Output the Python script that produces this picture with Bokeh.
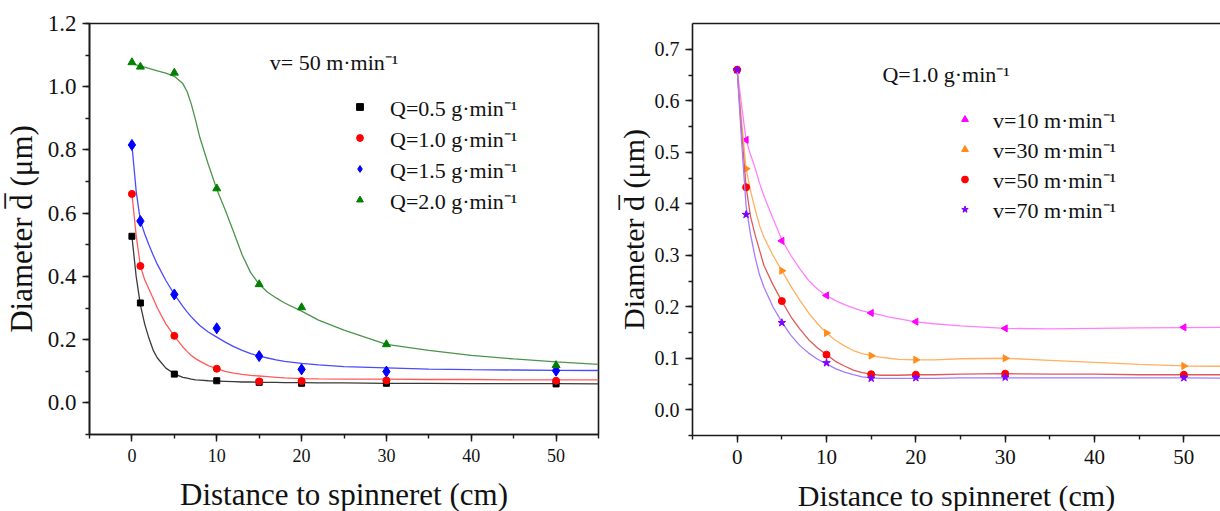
import math
from bokeh.plotting import figure
from bokeh.layouts import row
from bokeh.models import (Legend, LegendItem, Label, LinearAxis, SingleIntervalTicker,
                          FixedTicker, NumeralTickFormatter)
from bokeh.embed import file_html
from bokeh.resources import INLINE

FONT = "Liberation Serif"

# ---------------- data: measured points ----------------
dist = [0, 1, 5, 10, 15, 20, 30, 50]

# left panel (v = 50 m/min)
q05 = [0.527, 0.316, 0.091, 0.070, 0.065, 0.062, 0.062, 0.060]
q10 = [0.661, 0.433, 0.212, 0.108, 0.068, 0.069, 0.071, 0.070]
q15 = [0.816, 0.575, 0.343, 0.236, 0.148, 0.106, 0.099, 0.102]
q20 = [1.077, 1.063, 1.044, 0.678, 0.375, 0.302, 0.185, 0.119]

# right panel (Q = 1.0 g/min)
v10 = [0.660, 0.524, 0.328, 0.222, 0.188, 0.171, 0.158, 0.160]
v30 = [0.660, 0.468, 0.270, 0.149, 0.105, 0.097, 0.100, 0.085]
v50 = [0.660, 0.432, 0.211, 0.107, 0.069, 0.068, 0.070, 0.068]
v70 = [0.660, 0.379, 0.169, 0.091, 0.061, 0.062, 0.063, 0.062]

# ---------------- fitted curves ----------------
fit_x_left = [0, 0.5, 1, 1.5, 2, 2.5, 3, 4, 5, 6, 6.5, 7, 7.5, 8, 9, 10, 11, 12, 13, 14,
              15, 16, 17, 18, 20, 22, 25, 30, 35, 40, 45, 50, 55]
fit_q05 = [0.527, 0.400, 0.310, 0.250, 0.205, 0.167, 0.142, 0.110, 0.092, 0.081, 0.078,
           0.075, 0.073, 0.072, 0.070, 0.069, 0.068, 0.067, 0.066, 0.066,
           0.065, 0.065, 0.065, 0.064, 0.064, 0.063, 0.063, 0.062, 0.062, 0.061, 0.061, 0.061, 0.060]
fit_q10 = [0.661, 0.530, 0.433, 0.390, 0.360, 0.331, 0.300, 0.250, 0.211, 0.177, 0.163,
           0.150, 0.140, 0.132, 0.118, 0.108, 0.100, 0.094, 0.090, 0.087,
           0.085, 0.083, 0.081, 0.079, 0.077, 0.076, 0.075, 0.075, 0.074, 0.074, 0.073, 0.073, 0.073]
fit_q15 = [0.816, 0.670, 0.575, 0.535, 0.500, 0.468, 0.438, 0.387, 0.343, 0.305, 0.288,
           0.272, 0.258, 0.245, 0.224, 0.208, 0.192, 0.178, 0.166, 0.156,
           0.148, 0.142, 0.136, 0.131, 0.125, 0.120, 0.115, 0.111, 0.107, 0.105, 0.104, 0.103, 0.1025]
fit_q20 = [1.074, 1.069, 1.065, 1.062, 1.058, 1.054, 1.050, 1.043, 1.033, 1.010, 0.985,
           0.945, 0.895, 0.840, 0.755, 0.676, 0.610, 0.540, 0.468, 0.412,
           0.375, 0.350, 0.332, 0.316, 0.290, 0.262, 0.230, 0.185, 0.166, 0.150, 0.139, 0.130, 0.122]

fit_x_right = [0, 0.5, 1, 1.5, 2, 2.5, 3, 4, 5, 6, 7, 8, 9, 10, 11, 12, 13, 14, 15, 16,
               17, 18, 20, 22, 25, 30, 35, 40, 45, 50, 54.1]
fit_v10 = [0.660, 0.590, 0.524, 0.495, 0.470, 0.440, 0.415, 0.372, 0.330, 0.300, 0.274,
           0.251, 0.234, 0.2215, 0.212, 0.204, 0.198, 0.192, 0.188, 0.184,
           0.180, 0.177, 0.1705, 0.167, 0.163, 0.158, 0.157, 0.158, 0.159, 0.1596, 0.160]
fit_v30 = [0.660, 0.560, 0.468, 0.425, 0.390, 0.358, 0.335, 0.300, 0.270, 0.240, 0.213,
           0.188, 0.167, 0.149, 0.135, 0.124, 0.115, 0.109, 0.105, 0.102,
           0.100, 0.098, 0.097, 0.097, 0.099, 0.100, 0.096, 0.092, 0.088, 0.085, 0.0845]
fit_v50 = [0.660, 0.540, 0.432, 0.375, 0.340, 0.310, 0.280, 0.243, 0.211, 0.181, 0.157,
           0.136, 0.120, 0.107, 0.094, 0.085, 0.077, 0.072, 0.069, 0.067,
           0.067, 0.067, 0.068, 0.068, 0.069, 0.070, 0.069, 0.069, 0.068, 0.068, 0.068]
fit_v70 = [0.660, 0.520, 0.395, 0.340, 0.297, 0.262, 0.238, 0.200, 0.170, 0.145, 0.125,
           0.110, 0.098, 0.089, 0.080, 0.073, 0.068, 0.064, 0.062, 0.061,
           0.061, 0.061, 0.061, 0.061, 0.062, 0.062, 0.062, 0.062, 0.062, 0.062, 0.0615]

left_labels = ["Q=0.5 g\u00b7min\u207b\u00b9", "Q=1.0 g\u00b7min\u207b\u00b9",
               "Q=1.5 g\u00b7min\u207b\u00b9", "Q=2.0 g\u00b7min\u207b\u00b9"]
right_labels = ["v=10 m\u00b7min\u207b\u00b9", "v=30 m\u00b7min\u207b\u00b9",
                "v=50 m\u00b7min\u207b\u00b9", "v=70 m\u00b7min\u207b\u00b9"]
left_note = "v= 50 m\u00b7min\u207b\u00b9"
right_note = "Q=1.0 g\u00b7min\u207b\u00b9"
x_title = "Distance to spinneret (cm)"
y_title = "Diameter d\u0305 (\u03bcm)"

AX = "#1a1a1a"


def style_axes(p, xfs, yfs, title_fs, y_interval):
    p.xgrid.visible = False
    p.ygrid.visible = False
    p.background_fill_color = "white"
    p.border_fill_color = "white"
    p.xaxis.ticker = SingleIntervalTicker(interval=10, num_minor_ticks=2)
    p.yaxis.ticker = SingleIntervalTicker(interval=y_interval, num_minor_ticks=2)
    p.yaxis.formatter = NumeralTickFormatter(format="0.0")
    for ax in (p.xaxis, p.yaxis):
        ax.axis_line_color = AX
        ax.axis_line_width = 1.6
        ax.major_tick_line_color = AX
        ax.major_tick_line_width = 1.4
        ax.minor_tick_line_color = AX
        ax.minor_tick_line_width = 1.4
        ax.major_tick_in = 0
        ax.major_tick_out = 7
        ax.minor_tick_in = 0
        ax.minor_tick_out = 4
        ax.major_label_text_font = FONT
        ax.major_label_text_color = "#111111"
        ax.axis_label_text_font = FONT
        ax.axis_label_text_font_style = "normal"
        ax.axis_label_text_color = "#111111"
        ax.axis_label_text_font_size = title_fs
    p.xaxis.major_label_text_font_size = xfs
    p.yaxis.major_label_text_font_size = yfs
    p.xaxis.axis_label = x_title
    p.yaxis.axis_label = y_title
    p.yaxis.major_label_standoff = 6
    p.xaxis.major_label_standoff = 7


# ---------------- left panel ----------------
left = figure(frame_width=509, frame_height=411, x_range=(-5, 55), y_range=(-0.1, 1.2000001),
              output_backend="svg", toolbar_location=None,
              min_border_left=89, min_border_right=12, min_border_top=23, min_border_bottom=77)
style_axes(left, "18px", "23px", "31px", 0.2)
left.yaxis.axis_label_standoff = 6
left.xaxis.axis_label_standoff = 12
left.outline_line_color = AX
left.outline_line_width = 1.6
left.outline_line_alpha = 1.0

series_left = [
    (q05, fit_q05, "square", "#000000", "#3a3a3a", 6),
    (q10, fit_q10, "circle", "#ff0000", "#ff5a5a", 7),
    (q15, fit_q15, "diamond", "#0000ff", "#4a4aff", 11),
    (q20, fit_q20, "triangle", "#008000", "#4c944c", 8),
]
items = []
for (ys, fit, marker, mc, lc, sz), lab in zip(series_left, left_labels):
    left.line(fit_x_left, fit, line_color=lc, line_width=1.3)
    r = left.scatter(dist, ys, marker=marker, size=sz, fill_color=mc, line_color=mc)
    items.append(LegendItem(label=lab, renderers=[r]))

leg = Legend(items=items, location=(262, 219), border_line_color=None,
             background_fill_alpha=0, padding=0, margin=0, spacing=0,
             glyph_width=17, glyph_height=31, label_height=31, label_standoff=22,
             label_text_font=FONT, label_text_font_size="22px", label_text_color="#111111")
left.add_layout(leg)
left.add_layout(Label(x=16.25, y=1.078, text=left_note, text_font=FONT,
                      text_font_size="22px", text_baseline="middle", text_align="left",
                      text_color="#111111"))

# ---------------- right panel ----------------
right = figure(frame_width=528, frame_height=412, x_range=(-5, 54.1), y_range=(-0.05, 0.75),
               output_backend="svg", toolbar_location=None,
               min_border_left=82, min_border_right=0, min_border_top=22, min_border_bottom=77)
style_axes(right, "21px", "20px", "30px", 0.1)
right.yaxis.axis_label_standoff = 2
right.xaxis.axis_label_standoff = 12
right.outline_line_color = None
top_axis = LinearAxis(ticker=FixedTicker(ticks=[]), axis_line_color=AX, axis_line_width=1.6,
                      major_tick_line_color=None, minor_tick_line_color=None,
                      major_label_text_font_size="1px", major_label_text_alpha=0)
right.add_layout(top_axis, "above")

series_right = [
    (v10, fit_v10, "triangle", math.pi / 2, "#ff00ff", "#ff80ff", 7),
    (v30, fit_v30, "triangle", -math.pi / 2, "#ff8c1a", "#ffb062", 7),
    (v50, fit_v50, "circle", 0.0, "#ff0000", "#e05a5a", 7),
    (v70, fit_v70, "star", 0.0, "#7f00ff", "#a57bff", 8),
]
items_r = []
for (ys, fit, marker, ang, mc, lc, sz), lab in zip(series_right, right_labels):
    right.line(fit_x_right, fit, line_color=lc, line_width=1.3)
    r = right.scatter(dist, ys, marker=marker, angle=ang, size=sz, fill_color=mc, line_color=mc)
    items_r.append(LegendItem(label=lab, renderers=[r]))

leg_r = Legend(items=items_r, location=(264, 211), border_line_color=None,
               background_fill_alpha=0, padding=0, margin=0, spacing=0,
               glyph_width=17, glyph_height=30, label_height=30, label_standoff=20,
               label_text_font=FONT, label_text_font_size="22px", label_text_color="#111111")
right.add_layout(leg_r)
right.add_layout(Label(x=16.26, y=0.651, text=right_note, text_font=FONT,
                       text_font_size="22px", text_baseline="middle", text_align="left",
                       text_color="#111111"))

layout = row(left, right, spacing=0)
open("out.html", "w").write(file_html(layout, INLINE))
